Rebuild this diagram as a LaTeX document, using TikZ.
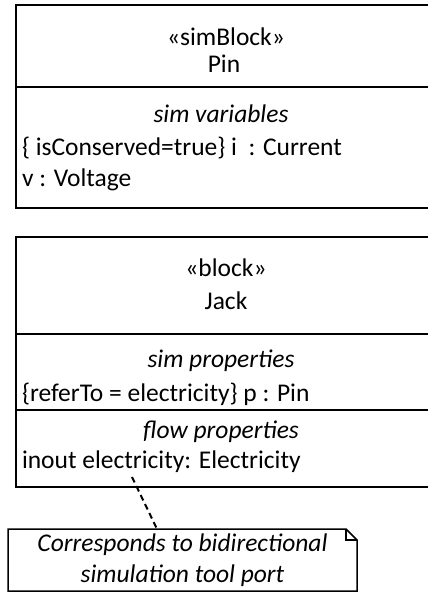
\documentclass[tikz,border=0pt]{standalone}
\usepackage{fontspec}
\setmainfont{Carlito}
\begin{document}
\begin{tikzpicture}[x=1pt,y=-1pt,line width=2pt,
  boxnode/.style={draw,line width=2pt,anchor=north west,inner sep=0pt,outer sep=0pt},
  txt/.style={font=\fontsize{25.5}{30}\selectfont,inner sep=0pt,outer sep=0pt},
  ctxt/.style={txt,anchor=base},
  ltxt/.style={txt,anchor=base west},
  itxt/.style={txt,anchor=base,font=\fontsize{25.5}{30}\selectfont\itshape},
  divider/.style={line width=2pt},
  conn/.style={line width=2pt,dash pattern=on 6pt off 4pt}]
\useasboundingbox (0,0) rectangle (428,592);
% Pin block
\node[boxnode,minimum width=422pt,minimum height=203pt] (pin) at (16,5) {};
\node[ctxt] (pinst) at (226,45) {«simBlock»};
\node[ctxt] (pinname) at (224,72) {Pin};
\draw[divider] (pin.west |- 0,87) -- (pin.east |- 0,87);
\node[itxt] (pinsec) at (221,122) {sim variables};
\node[ltxt] (pinv1) at (22,155) {\{ isConserved=true\} i\ \ : Current};
\node[ltxt] (pinv2) at (22,186) {v : Voltage};
% Jack block
\node[boxnode,minimum width=422pt,minimum height=250pt] (jack) at (16,237) {};
\node[ctxt] (jackst) at (226,276) {«block»};
\node[ctxt] (jackname) at (226,309) {Jack};
\draw[divider] (jack.west |- 0,334) -- (jack.east |- 0,334);
\node[itxt] (jacksec1) at (221,367) {sim properties};
\node[ltxt] (jackp1) at (22,401) {\{referTo = electricity\} p : Pin};
\draw[divider] (jack.west |- 0,410) -- (jack.east |- 0,410);
\node[itxt] (jacksec2) at (221,438) {flow properties};
\node[ltxt] (jackp2) at (22,468) {inout electricity: Electricity};
% Note
\node[inner sep=0pt,outer sep=0pt,minimum width=349pt,minimum height=62pt,anchor=north west,
      align=center,font=\fontsize{25.5}{31}\selectfont\itshape] (note) at (8,529)
      {Corresponds to bidirectional\\simulation tool port};
\draw[line width=1.5pt] (note.north west) -- ([xshift=-11pt]note.north east)
   -- ([yshift=-11pt]note.north east) -- (note.south east) -- (note.south west) -- cycle;
\draw[line width=1.5pt] ([xshift=-11pt]note.north east) -- ([xshift=-11pt,yshift=-11pt]note.north east)
   -- ([yshift=-11pt]note.north east);
\coordinate (anch) at (132,477);
\coordinate (ntop) at (157,529);
\draw[conn] (anch) -- (ntop);
\end{tikzpicture}
\end{document}
